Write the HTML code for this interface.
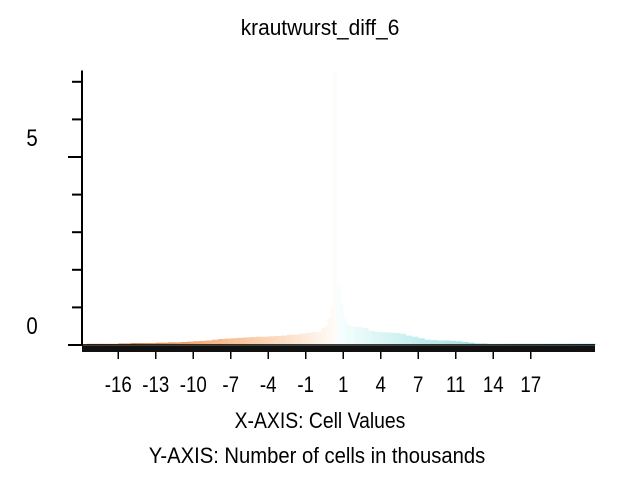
<!DOCTYPE html>
<html><head><meta charset="utf-8"><style>
body{margin:0;background:#fff}
svg{display:block}
text{font-family:"Liberation Sans",sans-serif;fill:#000}
</style></head><body>
<svg id="chart" width="640" height="480" viewBox="0 0 640 480">
<text transform="translate(320,35) scale(0.95,1)" font-size="22" text-anchor="middle">krautwurst_diff_6</text>
<g id="bars"></g>
<g id="axes"></g>
<text transform="translate(320,428) scale(0.88,1)" font-size="22" text-anchor="middle">X-AXIS: Cell Values</text>
<text transform="translate(317,463) scale(0.92,1)" font-size="22" text-anchor="middle">Y-AXIS: Number of cells in thousands</text>
</svg>
<script>
const binStart = -19;
const binWidth = 0.25;
const counts = [0.02,0.02,0.03,0.03,0.03,0.03,0.03,0.03,0.03,0.03,0.03,0.03,
0.04,0.04,0.04,0.04,0.05,0.05,0.05,0.05,0.05,0.05,0.05,0.05,0.06,0.06,0.06,0.06,0.07,0.07,0.07,0.07,
0.08,0.08,0.09,0.09,0.1,0.1,0.11,0.11,0.12,0.12,
0.14,0.14,0.16,0.16,0.17,0.17,0.18,0.18,0.19,0.19,
0.2,0.2,0.21,0.21,0.22,0.22,0.22,0.22,
0.23,0.23,0.24,0.24,0.25,0.25,0.27,0.27,0.28,0.28,
0.3,0.3,0.32,0.32,0.34,0.34,
0.35,0.45,0.5,0.7,
1.0,7.3,1.6,1.1,
0.7,0.55,
0.5,0.5,0.48,0.48,0.45,0.45,
0.38,0.38,0.35,0.35,0.34,0.34,0.33,0.33,0.32,0.32,
0.3,0.3,0.25,0.25,0.22,0.22,0.18,0.18,
0.14,0.14,0.13,0.13,0.12,0.12,0.12,0.12,
0.11,0.11,0.1,0.1,0.08,0.08,0.06,0.06,
0.04,0.04,0.04,0.04,0.03,0.03,0.03,0.03,0.03,0.03,0.03,0.03,0.03,0.03,0.03,0.03,0.03,0.03,0.03,0.03,
0.03,0.03,0.03,0.03,0.03,0.03,0.03,0.03,0.03,0.03,0.03,0.03,0.03,0.03,0.03,0.03,0.03,0.03,0.03,0.03,0.03,0.03];
const xTickValues = [-16,-13,-10,-7,-4,-1,2,5,8,11,14,17];
const xTickLabels = ["-16","-13","-10","-7","-4","-1","1","4","7","11","14","17"];
const yTickValues = [0,1,2,3,4,5,6,7];
const yLabelValues = [0,5];
const yLabels = ["0","5"];

const NS = "http://www.w3.org/2000/svg";
const X0 = 82, X1 = 595, Y0 = 345, VMIN = -18.9, PXU = 12.5, PYU = 37.6, VC = 1.375;
const xs = v => X0 + (v - VMIN) * PXU;
const ys = v => Y0 - v * PYU;
function mk(tag, attrs, parent){const e=document.createElementNS(NS,tag);for(const k in attrs)e.setAttribute(k,attrs[k]);parent.appendChild(e);return e;}
function mix(a,b,t){return a.map((c,i)=>Math.round(c+(b[i]-c)*t));}
function color(v){
  if(v<=VC){const t=Math.min(1,Math.max(0,(VC-v)/20));
    return t<0.5?mix([255,252,248],[246,180,130],t*2):mix([246,180,130],[190,90,20],(t-0.5)*2);}
  const t=Math.min(1,Math.max(0,(v-VC)/20));
  return t<0.5?mix([248,255,255],[170,228,228],t*2):mix([170,228,228],[20,150,150],(t-0.5)*2);
}
const bars=document.getElementById('bars');
counts.forEach((c,i)=>{
  const v=binStart+i*binWidth;
  const x=Math.max(X0,xs(v)), x2=Math.min(X1,xs(v+binWidth));
  if(x2<=x)return;
  const col=color(v+binWidth/2);
  const r=mk('rect',{x:x,y:ys(c),width:x2-x+0.3,height:Y0-ys(c),fill:'rgb('+col.join(',')+')'},bars);
  
  
});
const axes=document.getElementById('axes');
const band=mk('rect',{x:X0,y:Y0+1,width:X1-X0,height:6,fill:'#111'},axes);


const xl=mk('line',{x1:X0,y1:Y0,x2:X1,y2:Y0,stroke:'#000','stroke-width':1.5},axes);


const yl=mk('line',{x1:X0,y1:ys(7.3),x2:X0,y2:Y0+1,stroke:'#000','stroke-width':2},axes);


yTickValues.forEach(v=>{
  const major=v%5===0;
  const t=mk('line',{x1:major?X0-14:X0-10,y1:ys(v),x2:X0,y2:ys(v),stroke:'#000','stroke-width':2},axes);
  
  
});
yLabelValues.forEach((v,i)=>{
  const t=mk('text',{transform:'translate(32,'+(ys(v)-11)+') scale(0.85,1)','font-size':24,'text-anchor':'middle'},axes);
  t.textContent=yLabels[i];
  
  
});
xTickValues.forEach((v,i)=>{
  const tk=mk('line',{x1:xs(v),y1:Y0+7,x2:xs(v),y2:Y0+14,stroke:'#000','stroke-width':1.5},axes);
  
  
  const t=mk('text',{transform:'translate('+xs(v)+',392) scale(0.85,1)','font-size':22,'text-anchor':'middle'},axes);
  t.textContent=xTickLabels[i];
  
  
});
</script>
</body></html>
